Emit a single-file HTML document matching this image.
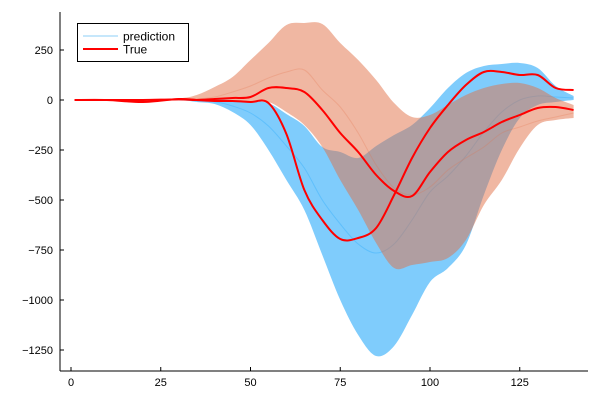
<!DOCTYPE html>
<html><head><meta charset="utf-8">
<style>
html,body{margin:0;padding:0;background:#fff;}
svg{display:block;font-family:"Liberation Sans","DejaVu Sans",sans-serif;}
</style></head>
<body>
<svg id="chart" width="600" height="400" viewBox="0 0 600 400" xmlns="http://www.w3.org/2000/svg">
<g id="bands"></g>
<g id="lines"></g>
<g id="axes"></g>
<g id="legend">
  <rect x="77.5" y="23.5" width="111" height="38" fill="#fff" stroke="#000" stroke-width="1"/>
  <line x1="83" y1="36" x2="118" y2="36" stroke="#c6e7fb" stroke-width="2"/>
  <text x="123" y="40.5" font-size="12" fill="#000">prediction</text>
  <line x1="83" y1="49" x2="118" y2="49" stroke="#ff0000" stroke-width="2"/>
  <text x="123" y="53.5" font-size="12" fill="#000">True</text>
</g>
</svg>
<script>
const xs        = [1,10,20,30,35,40,45,50,55,60,65,70,75,80,85,90,95,100,105,110,115,120,125,130,135,140];
const blueLo    = [0,0,0,0,-10,-20,-60,-125,-250,-400,-550,-775,-1000,-1175,-1280,-1230,-1075,-910,-840,-725,-475,-250,-90,-25,-10,0];
const blueHi    = [0,0,0,3,5,5,0,-5,-15,-70,-130,-235,-260,-290,-230,-175,-125,-40,60,135,170,180,185,160,70,20];
const blueMean  = [0,0,0,0,-3,-8,-30,-65,-130,-230,-340,-500,-620,-720,-765,-720,-600,-460,-380,-280,-160,-60,0,20,15,10];
const orangeLo  = [0,0,0,0,-5,-5,-5,-10,-10,-60,-125,-235,-400,-550,-715,-840,-825,-810,-790,-700,-525,-400,-240,-125,-100,-90];
const orangeHi  = [0,0,0,8,25,65,115,200,285,375,385,380,285,200,100,-15,-85,-75,-25,25,60,80,85,60,10,-25];
const orangeMean= [0,0,0,0,5,15,40,70,110,140,150,50,-35,-165,-325,-440,-475,-435,-350,-290,-235,-165,-135,-105,-85,-65];
const true1     = [0,0,-10,5,0,-5,-5,-10,-15,-170,-450,-600,-695,-690,-640,-475,-290,-140,-25,75,140,140,125,125,60,50];
const true2     = [0,0,0,3,0,5,10,15,60,60,40,-50,-165,-260,-375,-455,-480,-360,-260,-200,-160,-110,-75,-40,-35,-50];
const xTicks = [0,25,50,75,100,125];
const yTicks = [250,0,-250,-500,-750,-1000,-1250];
const yTickLabels = ["250","0","\u2212250","\u2212500","\u2212750","\u22121000","\u22121250"];

const X0=60, X1=588, Y0=12, Y1=371;
function sx(v){ return 71 + v*3.59; }
function sy(v){ return 100 - v*0.2; }
const NS="http://www.w3.org/2000/svg";
function mk(tag, attrs, parent){ const e=document.createElementNS(NS,tag); for(const k in attrs) e.setAttribute(k,attrs[k]); parent.appendChild(e); return e; }
function smooth(pts){
  let d="M"+pts[0][0].toFixed(2)+","+pts[0][1].toFixed(2);
  for(let i=0;i<pts.length-1;i++){
    const p0=pts[Math.max(0,i-1)], p1=pts[i], p2=pts[i+1], p3=pts[Math.min(pts.length-1,i+2)];
    const c1=[p1[0]+(p2[0]-p0[0])/6, p1[1]+(p2[1]-p0[1])/6];
    const c2=[p2[0]-(p3[0]-p1[0])/6, p2[1]-(p3[1]-p1[1])/6];
    d+=" C"+c1[0].toFixed(2)+","+c1[1].toFixed(2)+" "+c2[0].toFixed(2)+","+c2[1].toFixed(2)+" "+p2[0].toFixed(2)+","+p2[1].toFixed(2);
  }
  return d;
}
function pts(arr){ return xs.map((x,i)=>[sx(x), sy(arr[i])]); }
function bandPath(lo,hi){
  const up=pts(hi), dn=pts(lo).reverse();
  const d2=smooth(dn).replace(/^M/," L");
  return smooth(up)+d2+" Z";
}
const bands=document.getElementById('bands');
const lines=document.getElementById('lines');
const axes=document.getElementById('axes');

const bb=mk('path',{d:bandPath(blueLo,blueHi),fill:'rgb(0,154,250)','fill-opacity':0.5},bands);


const bm=mk('path',{d:smooth(pts(blueMean)),fill:'none',stroke:'rgb(0,154,250)','stroke-opacity':0.25,'stroke-width':1},bands);


const ob=mk('path',{d:bandPath(orangeLo,orangeHi),fill:'rgb(226,111,70)','fill-opacity':0.5},bands);


const om=mk('path',{d:smooth(pts(orangeMean)),fill:'none',stroke:'rgb(226,111,70)','stroke-opacity':0.25,'stroke-width':1},bands);



const t1=mk('path',{d:smooth(pts(true1)),fill:'none',stroke:'#ff0000','stroke-width':2,'stroke-linejoin':'round'},lines);


const t2=mk('path',{d:smooth(pts(true2)),fill:'none',stroke:'#ff0000','stroke-width':2,'stroke-linejoin':'round'},lines);



const ya=mk('line',{x1:X0,y1:Y0,x2:X0,y2:Y1,stroke:'#000','stroke-width':1},axes);


const xa=mk('line',{x1:X0,y1:Y1,x2:X1,y2:Y1,stroke:'#000','stroke-width':1},axes);


xTicks.forEach(v=>{
  const x=sx(v);
  const tk=mk('line',{x1:x,y1:Y1,x2:x,y2:Y1-4,stroke:'#000','stroke-width':1},axes);
  
  
  const t=mk('text',{x:x,y:Y1+15,'font-size':11,'text-anchor':'middle',fill:'#000'},axes);
  t.textContent=String(v);
  
  
});
yTicks.forEach((v,i)=>{
  const y=sy(v);
  const tk=mk('line',{x1:X0,y1:y,x2:X0+4,y2:y,stroke:'#000','stroke-width':1},axes);
  
  
  const t=mk('text',{x:X0-7,y:y+4,'font-size':11,'text-anchor':'end',fill:'#000'},axes);
  t.textContent=yTickLabels[i];
  
  
});
</script>
</body></html>
